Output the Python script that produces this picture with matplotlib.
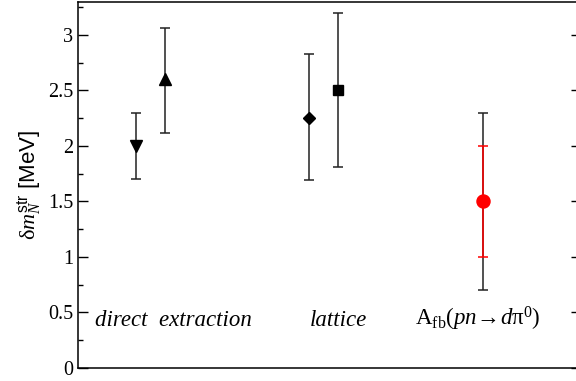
import matplotlib
matplotlib.use("Agg")
import matplotlib.pyplot as plt
from matplotlib.ticker import MultipleLocator

plt.rcParams['mathtext.fontset'] = 'custom'
plt.rcParams['mathtext.rm'] = 'Liberation Serif'
plt.rcParams['mathtext.it'] = 'Liberation Serif:italic'
plt.rcParams['mathtext.sf'] = 'Liberation Sans'

# data: (x position, value, lower, upper)
x_pos = [2, 3, 8, 9, 14]
values = [2.0, 2.6, 2.25, 2.5, 1.5]
err_low = [1.7, 2.12, 1.69, 1.81, 0.7]
err_high = [2.3, 3.06, 2.83, 3.2, 2.3]
markers = ['v', '^', 'D', 's', 'o']
msizes = [8.6, 8.6, 6.1, 7.2, 9.4]
# inner (red) error for the A_fb point
red_low = 1.0
red_high = 2.0

y_ticks = [0, 0.5, 1, 1.5, 2, 2.5, 3]
y_ticklabels = ['0', '0.5', '1', '1.5', '2', '2.5', '3']

group_labels = ['direct  extraction', 'lattice',
                r'A$_{\mathrm{fb}}$($pn\!\rightarrow\! d\mathrm{\pi}^{0}$)']
label_x = [0.59, 8.03, 11.66]
label_y = 0.38

fig = plt.figure(figsize=(5.76, 3.81), dpi=100)
ax = fig.add_axes([78/576, 13.3/381, 503/576, 366/381])

for i in range(4):
    ax.errorbar(x_pos[i], values[i],
                yerr=[[values[i] - err_low[i]], [err_high[i] - values[i]]],
                fmt=markers[i], color='black', ecolor='#222222', ms=msizes[i],
                elinewidth=1.1, capsize=3.6, capthick=1.1)

# A_fb point: outer black, inner red
ax.errorbar(x_pos[4], values[4],
            yerr=[[values[4] - err_low[4]], [err_high[4] - values[4]]],
            fmt='none', ecolor='#222222', elinewidth=1.1, capsize=3.6, capthick=1.1)
ax.errorbar(x_pos[4], values[4],
            yerr=[[values[4] - red_low], [red_high - values[4]]],
            fmt=markers[4], color='red', ecolor='red', ms=msizes[4],
            elinewidth=1.1, capsize=3.6, capthick=1.1)

for lx, lab in zip(label_x, group_labels[:2]):
    ax.text(lx, label_y, lab, fontsize=16.5, fontstyle='italic',
            family='Liberation Serif', va='baseline')
ax.text(label_x[2], label_y, group_labels[2], fontsize=16.5,
        family='Liberation Serif', va='baseline')

ax.set_xlim(0, 17.4)
ax.set_ylim(0, 3.3)
ax.set_xticks([])
ax.set_yticks(y_ticks)
ax.set_yticklabels(y_ticklabels, family='Liberation Serif', fontsize=14.5)
ax.yaxis.set_minor_locator(MultipleLocator(0.25))
ax.tick_params(axis='y', which='major', direction='in', length=7.2, width=1.0,
               right=True)
ax.tick_params(axis='y', which='minor', direction='in', length=3.6, width=1.0,
               right=False)
for sp in ax.spines.values():
    sp.set_linewidth(1.1)

ax.set_ylabel(r'$\mathrm{\delta} m_{N}^{\mathsf{str}}$ [MeV]', fontsize=16,
              family='Liberation Sans', labelpad=3)

fig.savefig('out.png', dpi=100)
